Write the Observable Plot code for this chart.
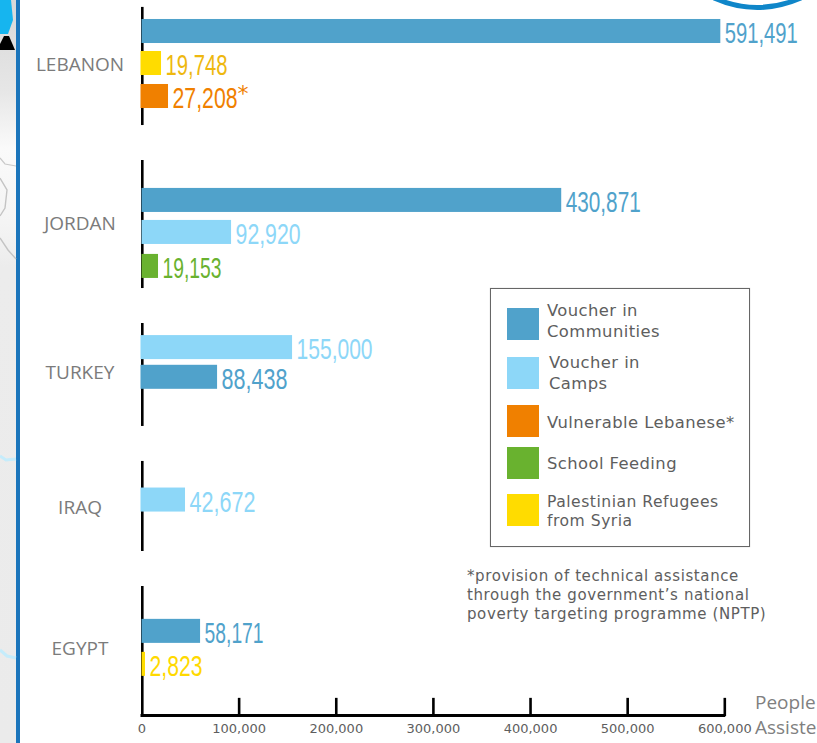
<!DOCTYPE html>
<html>
<head>
<meta charset="utf-8">
<script src="https://cdn.jsdelivr.net/npm/d3@7"></script>
<script src="https://cdn.jsdelivr.net/npm/@observablehq/plot@0.6"></script>
<style>
html,body{margin:0;padding:0;background:#fff;overflow:hidden;width:817px;height:743px}
#wrap{position:relative;width:817px;height:743px;overflow:hidden}
#wrap>svg{position:absolute;left:0;top:0}
.legend{position:absolute;left:490px;top:288px;width:258px;height:257px;border:1.5px solid #666;box-shadow:0 0 1px #bbb}
.sw{position:absolute;left:16px;width:32px;height:32px}
.lt,.note,.people{position:absolute;white-space:pre}
.lt{font:16.4px/20.5px "DejaVu Sans";letter-spacing:.42px;color:#5e5e5e}
.note{left:467px;top:567px;font:15px/19px "DejaVu Sans";letter-spacing:.6px;color:#5e5e5e}
.people{left:755px;top:690px;font:19px/25px "Open Sans";color:#808080}
</style>
</head>
<body>
<div id="wrap"></div>
<script>
// Data
const countries = ["LEBANON","JORDAN","TURKEY","IRAQ","EGYPT"];
const barCountry = ["LEBANON","LEBANON","LEBANON","JORDAN","JORDAN","JORDAN","TURKEY","TURKEY","IRAQ","EGYPT","EGYPT"];
const barSeries = ["Voucher in Communities","Palestinian Refugees from Syria","Vulnerable Lebanese*","Voucher in Communities","Voucher in Camps","School Feeding","Voucher in Camps","Voucher in Communities","Voucher in Camps","Voucher in Communities","Palestinian Refugees from Syria"];
const printedLabels = ["591,491","19,748","27,208","430,871","92,920","19,153","155,000","88,438","42,672","58,171","2,823"];
// Bar lengths as drawn in the picture (the printed figure is not always to scale)
const drawnLengths = [595900,20100,27300,432100,92200,17000,155000,77800,44800,60300,3600];
const seriesNames = ["Voucher in Communities","Voucher in Camps","Vulnerable Lebanese*","School Feeding","Palestinian Refugees from Syria"];
const seriesColors = ["#50a2cb","#8dd7f8","#f08000","#69b22f","#ffdc00"];
const labelColors = ["#50a2cb","#eeb80f","#f08000","#50a2cb","#8dd7f8","#69b22f","#8dd7f8","#50a2cb","#8dd7f8","#50a2cb","#ffd900"];
const xTicks = [0,100000,200000,300000,400000,500000,600000];

// Layout on the y scale, in row units
const rowPositions = [0,0.97,1.97,5.12,6.09,7.12,9.58,10.48,14.2,18.18,19.18];
const countryRows = [1.0,5.82,10.36,14.45,18.7];
const axisSpans = [[-0.73,2.85],[3.91,7.79],[8.85,11.97],[13.03,15.76],[16.82,20.76]];
const tickTopRow = 20.21, bottomRow = 20.76, halfBar = 0.364;
const labelWidths = [73,62,65,75,65,59,76,66,66,59,53];

const bars = barCountry.map((c,i)=>({country:c,series:barSeries[i],label:printedLabels[i],len:drawnLengths[i],
  pos:rowPositions[i],labelFill:labelColors[i],
  over:i===1||i===2||i===6||i===7||i===8}));
const countryData = countries.map((c,i)=>({c,pos:countryRows[i]}));

const plot = Plot.plot({
  width:817,height:743,marginLeft:141.5,marginRight:92.7,marginTop:0,marginBottom:27,
  style:{background:"transparent"},
  x:{domain:[0,600000],axis:null,label:null},
  y:{domain:[-31/33,bottomRow],range:[0,716],axis:null},
  color:{domain:seriesNames,range:seriesColors},
  marks:[
    Plot.ruleX(axisSpans,{x:()=>0,y1:d=>d[0],y2:d=>d[1],stroke:"#000",strokeWidth:2.6,dx:0.3}),
    Plot.rectX(bars.filter(d=>!d.over),{x1:0,x2:"len",y1:d=>d.pos-halfBar,y2:d=>d.pos+halfBar,fill:"series"}),
    Plot.rectX(bars.filter(d=>d.over),{x1:0,x2:"len",y1:d=>d.pos-halfBar,y2:d=>d.pos+halfBar,fill:"series",insetLeft:-1}),
    Plot.ruleX(xTicks.slice(1),{y1:tickTopRow,y2:bottomRow,stroke:"#000",strokeWidth:2.6}),
    Plot.ruleY([bottomRow],{x1:0,x2:600000,stroke:"#000",strokeWidth:3,dy:-1,insetLeft:-1,insetRight:-1}),
    Plot.axisX({ticks:xTicks,tickSize:0,tickPadding:7,tickFormat:d3.format(","),fontSize:13,label:null,
      fontFamily:"DejaVu Sans",fill:"#5e5e5e",stroke:"none"}),
    Plot.text(countryData,{frameAnchor:"left",dx:-62,y:"pos",text:"c",textAnchor:"middle",
      fontFamily:"Open Sans",fontSize:19,fill:"#7b7b7b"}),
    Plot.text(bars,{x:"len",y:"pos",text:"label",fill:"labelFill",textAnchor:"start",dx:4,dy:2,
      fontFamily:"Liberation Sans",fontSize:30,className:"vals"}),
    Plot.text(bars.filter(d=>d.label==="27,208"),{x:"len",y:"pos",text:()=>"*",fill:"#f08000",textAnchor:"start",
      dx:69,dy:-3,fontFamily:"DejaVu Sans",fontSize:22})
  ]
});
document.getElementById("wrap").appendChild(plot);

// Condense the value labels to the tall, narrow look of the original
plot.querySelectorAll(".vals text").forEach(t=>{
  t.setAttribute("textLength",labelWidths[printedLabels.indexOf(t.textContent)]);
  t.setAttribute("lengthAdjust","spacingAndGlyphs");
});

// Legend
const wrap=document.getElementById("wrap");
const legend=document.createElement("div");legend.className="legend";wrap.appendChild(legend);
const legendLines=[["Voucher in\nCommunities"],["Voucher in\nCamps"],["Vulnerable Lebanese*"],["School Feeding"],["Palestinian Refugees\nfrom Syria"]];
const swatchTops=[19,68,116,158,205], textTops=[12,64,124,165,204], textLefts=[56,58,56,56,56];
seriesNames.forEach((s,i)=>{
  const sw=document.createElement("div");sw.className="sw";sw.style.top=swatchTops[i]+"px";sw.style.background=seriesColors[i];legend.appendChild(sw);
  const t=document.createElement("div");t.className="lt";t.textContent=legendLines[i][0];t.style.top=textTops[i]+"px";t.style.left=textLefts[i]+"px";
  if(i===4){t.style.lineHeight="19px";t.style.fontSize="15.6px";t.style.letterSpacing=".5px";}
  legend.appendChild(t);
});
const note=document.createElement("div");note.className="note";
note.textContent="*provision of technical assistance\nthrough the government\u2019s national\npoverty targeting programme (NPTP)";wrap.appendChild(note);
const people=document.createElement("div");people.className="people";people.textContent="People\nAssisted";wrap.appendChild(people);

// Background fragments at the edges of the page (decoration, not data)
wrap.insertAdjacentHTML("beforeend",`<svg width="817" height="743" style="position:absolute;left:0;top:0;pointer-events:none">
<defs><linearGradient id="g" x1="0" y1="0" x2="0" y2="1"><stop offset="0" stop-color="#d8d8d8"/><stop offset="0.12" stop-color="#e6e6e6"/><stop offset="0.2" stop-color="#fafafa"/><stop offset="0.3" stop-color="#f4f4f4"/><stop offset="0.36" stop-color="#ececec"/><stop offset="1" stop-color="#ebebeb"/></linearGradient></defs>
<rect x="0" y="0" width="16" height="743" fill="url(#g)"/>
<rect x="16" y="0" width="4" height="743" fill="#1b75bb"/>
<path d="M0,0H11L13,20L8,34H0Z" fill="#16b5ef"/>
<path d="M0,50V44L4,36H9L15,50Z" fill="#000"/>
<path d="M0,158L5,164L16,166" fill="none" stroke="#c9c9c9" stroke-width="1.2"/>
<path d="M0,178L7,190L5,208L0,216" fill="none" stroke="#c4c4c4" stroke-width="1.4"/>
<path d="M0,238L8,250L16,259" fill="none" stroke="#c4c4c4" stroke-width="1.4"/>
<path d="M0,456L6,460L16,459" fill="none" stroke="#c5ecfb" stroke-width="3"/>
<path d="M0,650L7,656L16,658" fill="none" stroke="#c5ecfb" stroke-width="3"/>
<path d="M714,-2Q757,17 801,-2" fill="none" stroke="#0f86c9" stroke-width="5"/>
</svg>`);
</script>
</body>
</html>
